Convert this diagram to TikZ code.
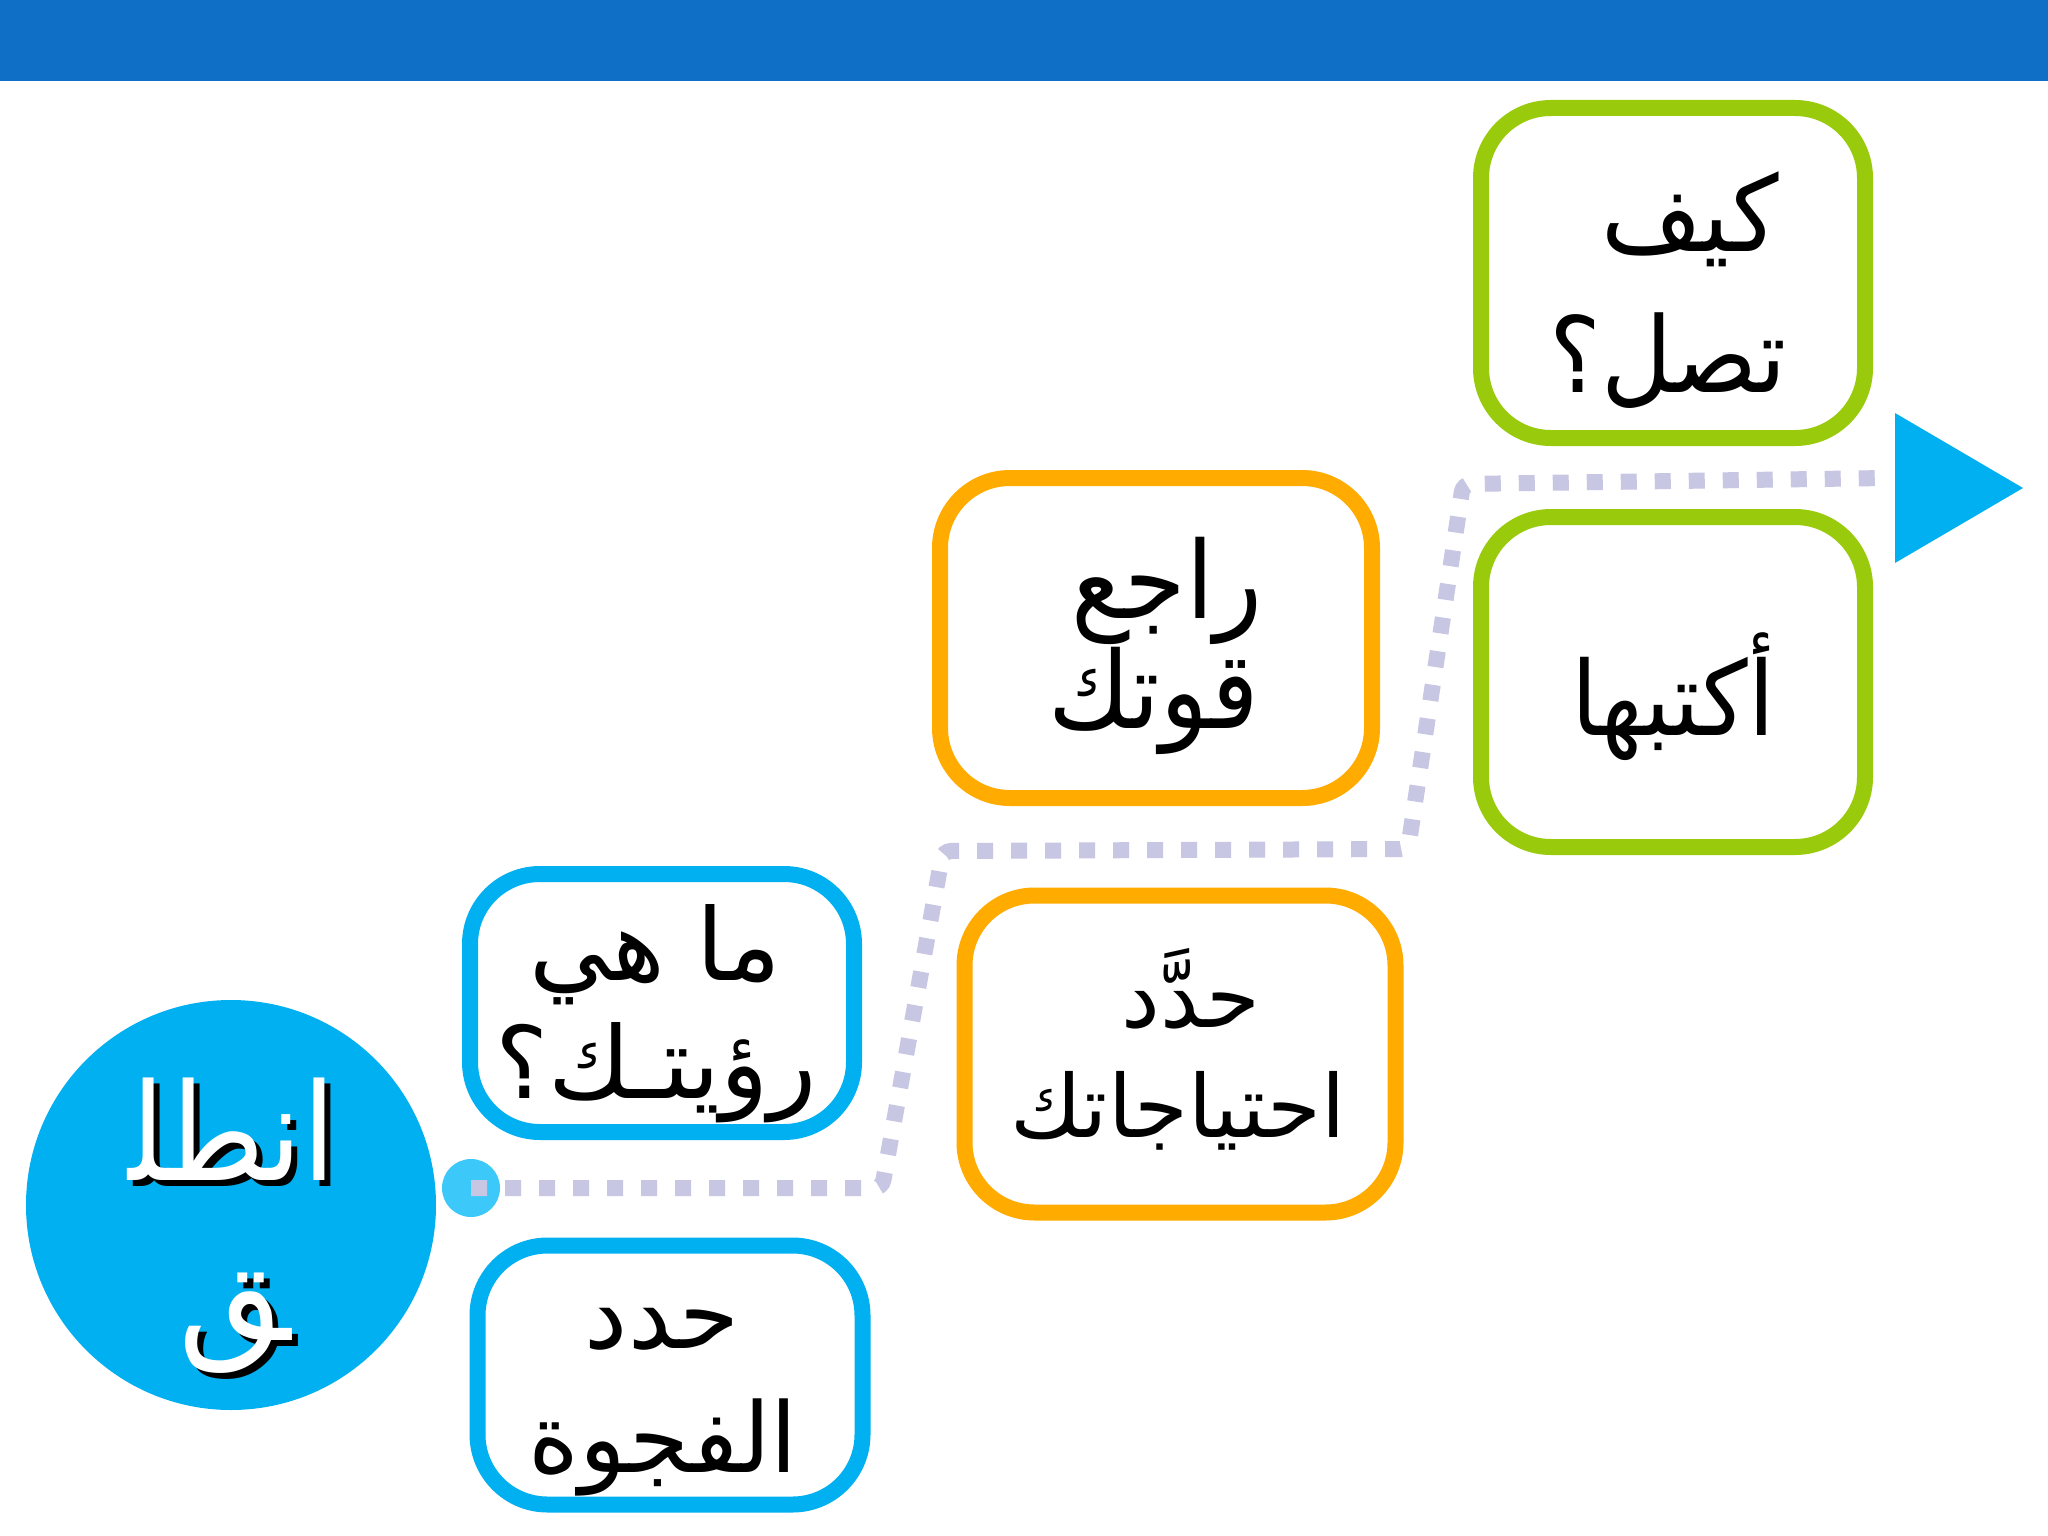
\documentclass[tikz,border=0pt]{standalone}
\usepackage{fontspec}
\newfontfamily\arabicfont[Script=Arabic]{DejaVu Sans}
\newfontfamily\arabicnarrow[Script=Arabic,FakeStretch=0.93]{DejaVu Sans}
\newfontfamily\arabiccirc[Script=Arabic,FakeStretch=0.9]{DejaVu Sans}
\TeXXeTstate=1
\newcommand{\ar}[1]{\beginR #1\endR}
\newcommand{\fGa}{\arabicnarrow\fontsize{105}{120}\selectfont}
\newcommand{\fGb}{\arabicnarrow\fontsize{103}{120}\selectfont}
\newcommand{\fOa}{\arabicnarrow\fontsize{107}{120}\selectfont}
\newcommand{\fOb}{\arabicfont\fontsize{87}{110}\selectfont}
\newcommand{\fBa}{\arabicfont\fontsize{100}{120}\selectfont}
\newcommand{\fBb}{\arabicfont\fontsize{97}{120}\selectfont}
\newcommand{\fCirc}{\arabicfont\fontsize{135}{160}\selectfont}
\newcommand{\fCircN}{\arabiccirc\fontsize{135}{160}\selectfont}
\definecolor{barblue}{HTML}{0F6FC6}
\definecolor{skyblue}{HTML}{00B0F0}
\definecolor{lgreen}{HTML}{9ACA0C}
\definecolor{orng}{HTML}{FFAB00}
\definecolor{dotline}{HTML}{C7C6E3}
\definecolor{dotblue}{HTML}{3CC8F8}
\tikzset{
  box/.style={draw=#1, line width=16pt, rounded corners=70pt, fill=white,
    inner sep=0pt, outer sep=0pt},
  txt/.style={anchor=base, inner sep=0pt, outer sep=0pt},
  pathline/.style={dotline, line width=16pt, dash pattern=on 16pt off 18pt, rounded corners=8pt}
}
\begin{document}
\begin{tikzpicture}[x=1pt,y=-1pt]
\useasboundingbox (0,0) rectangle (2048,1536);
\fill[white] (0,0) rectangle (2048,1536);
% top bar
\fill[barblue] (0,0) rectangle (2048,81);
% start dot and path
\node[circle, fill=dotblue, minimum size=58pt, inner sep=0pt] (dot) at (471,1188) {};
\coordinate (p1) at (882,1188);
\coordinate (p2) at (943,851);
\coordinate (p3) at (1408,849);
\coordinate (p4) at (1463,484);
\coordinate (pend) at (1887,478);
\draw[pathline] (dot.center) -- (p1) -- (p2) -- (p3) -- (p4) -- (pend);
% end triangle
\coordinate (tri) at (1895,488);
\fill[skyblue] (1895,413) -- (2023,488) -- (1895,563) -- cycle;
% boxes
\node[box=lgreen, minimum width=384pt, minimum height=330pt] (g1) at (1673,273) {};
\node[txt, font=\fGa] (g1a) at (1690,251) {\ar{كيف}};
\node[txt, font=\fGa] (g1b) at (1668,392) {\ar{تصل؟}};
\node[box=lgreen, minimum width=384pt, minimum height=330pt] (g2) at (1673,682) {};
\node[txt, font=\fGb] (g2a) at (1673,735) {\ar{أكتبها}};
\node[box=orng, minimum width=432pt, minimum height=320pt] (o1) at (1156,638) {};
\node[txt, font=\fOa] (o1a) at (1167,618) {\ar{راجع}};
\node[txt, font=\fOa] (o1b) at (1154,728) {\ar{قوتك}};
\node[box=orng, minimum width=431pt, minimum height=317pt] (o2) at (1180,1054) {};
\node[txt, font=\fOb] (o2a) at (1191,1027) {\ar{حدَّد}};
\node[txt, font=\fOb] (o2b) at (1178,1137) {\ar{احتياجاتك}};
\node[box=skyblue, minimum width=384pt, minimum height=258pt] (b1) at (662,1003) {};
\node[txt, font=\fBa] (b1a) at (655,980) {\ar{ما هي}};
\node[txt, font=\fBa] (b1b) at (656,1098) {\ar{رؤيتـك؟}};
\node[box=skyblue, minimum width=385pt, minimum height=259pt] (b2) at (670,1375) {};
\node[txt, font=\fBb] (b2a) at (662,1348) {\ar{حدد}};
\node[txt, font=\fBb] (b2b) at (663,1472) {\ar{الفجوة}};
% start circle
\node[circle, fill=skyblue, minimum size=410pt, inner sep=0pt] (start) at (231,1205) {};
\node[txt, font=\fCircN, text=black] (s1s) at (238,1186) {\ar{انطل^^^^200d}};
\node[txt, font=\fCirc, text=black] (s2s) at (241,1346) {\ar{^^^^200dق}};
\node[txt, font=\fCircN, text=white] (s1) at (232,1180) {\ar{انطل^^^^200d}};
\node[txt, font=\fCirc, text=white] (s2) at (235,1340) {\ar{^^^^200dق}};
\end{tikzpicture}
\end{document}
